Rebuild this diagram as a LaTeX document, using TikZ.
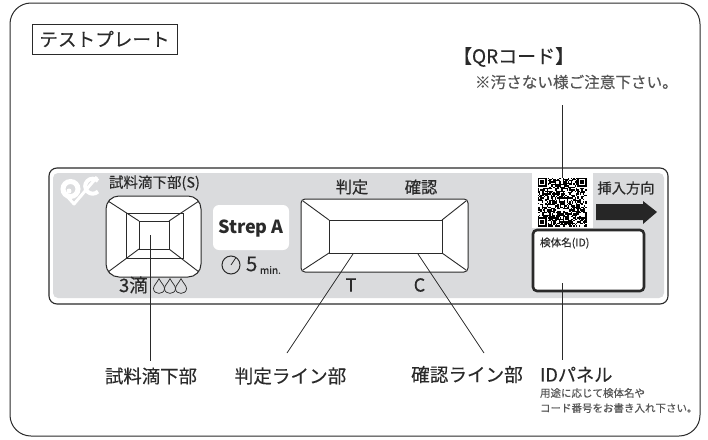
\documentclass[tikz,border=0pt]{standalone}
\usepackage{fontspec}
\setmainfont[FakeBold=0.25,BoldFeatures={FakeBold=0}]{Noto Sans CJK JP}
\newcommand{\fs}[1]{\fontsize{#1}{#1}\selectfont}
\definecolor{ink}{HTML}{2A2A2A}
\definecolor{panelgray}{HTML}{DADBDD}
\definecolor{softink}{HTML}{555555}
\tikzset{
  txt/.style={inner sep=0pt,outer sep=0pt,text=ink,font=\fs{#1}},
  well/.style={draw=ink,line width=1pt,fill=white,inner sep=0pt},
  leader/.style={draw=ink,line width=0.8pt},
  facet/.style={draw=ink,line width=0.9pt},
  dropmark/.style={draw=ink,line width=0.7pt,fill=none},
}
\begin{document}
\begin{tikzpicture}[x=1pt,y=-1pt]
\useasboundingbox (0,0) rectangle (708,439);
\fill[white] (0,0) rectangle (708,439);
% outer frame
\draw[ink,line width=1pt,rounded corners=21pt] (10,3) rectangle (700,436);
% title
\node[txt=18.6,draw=ink,line width=1pt,minimum width=145pt,minimum height=30pt] (title) at (104.5,39) {テストプレート};
% plate
\draw[ink,line width=1.1pt,fill=white,rounded corners=8pt] (49,168) rectangle (668,304);
\fill[panelgray,rounded corners=5pt] (53,173) rectangle (664,298);
% logo
\begin{scope}[white]
\draw[line width=5pt] (70.5,189) circle (7.5);
\fill (69,191) circle (2.5);
\draw[line width=3pt,line join=round] (66,195) -- (74,204) -- (97,177);
\draw[line width=4pt] (98,191.5) arc (45:315:7.5);
\end{scope}
% sample well
\node[txt=14.5,anchor=west] (sHead) at (109,183) {試料滴下部(S)};
\draw[well,rounded corners=13pt] (106,196) rectangle (201,277);
\draw[facet] (126,213) rectangle (183,258);
\draw[facet] (139,221) rectangle (169,249);
\draw[facet] (108,201) -- (139,221) (199,201) -- (169,221) (108,272) -- (139,249) (199,272) -- (169,249);
\node[txt=18.5,anchor=west] (drops) at (119,285) {3滴};
\foreach \dx in {159,170,181}{
  \draw[dropmark] (\dx,278.5) .. controls (\dx-2,283) and (\dx-5.5,285.5) .. (\dx-5.5,288.5)
     .. controls (\dx-5.5,295) and (\dx+5.5,295) .. (\dx+5.5,288.5)
     .. controls (\dx+5.5,285.5) and (\dx+2,283) .. (\dx,278.5);
}
% Strep A
\fill[white,rounded corners=6pt] (213,205) rectangle (289,250);
\node[txt=18] (strep) at (251,229) {\bfseries Strep A};
\coordinate (clock) at (231,265);
\draw[ink,line width=1pt] (clock) circle (9);
\draw[ink,line width=0.8pt] (clock) -- (236,257.5);
\node[txt=20.5,anchor=west] (five) at (246,264) {5};
\node[txt=10,anchor=west] (minutes) at (260,270) {min.};
% reading well
\node[txt=16.3] (hantei) at (352,187) {判定};
\node[txt=16.3] (kakunin) at (421,187) {確認};
\draw[well,rounded corners=4pt] (301,199) rectangle (468,272);
\draw[facet] (329,220) rectangle (442,253);
\draw[facet] (303,201) -- (329,220) (466,201) -- (442,220) (303,270) -- (329,253) (466,270) -- (442,253);
\node[txt=18] (tMark) at (351,285) {T};
\node[txt=18] (cMark) at (419.5,285) {C};
% QR
\fill[white] (532,173) rectangle (593,228);
\pgfmathsetseed{11}
\begin{scope}[shift={(537.5,177.5)}]
\foreach \i in {0,...,36}{\foreach \j in {0,...,36}{
  \pgfmathrandominteger{\r}{0}{99}
  \ifnum\r<58\relax\fill[black] (\i*1.33,\j*1.33) rectangle ++(1.33,1.33);\fi
}}
\foreach \ox/\oy in {0/0,39.9/0,0/39.9}{
  \fill[white] (\ox,\oy) rectangle ++(10.6,10.6);
  \fill[black] (\ox,\oy) rectangle ++(9.3,9.3);
  \fill[white] (\ox+1.33,\oy+1.33) rectangle ++(6.65,6.65);
  \fill[black] (\ox+2.66,\oy+2.66) rectangle ++(3.99,3.99);
}
\end{scope}
% insertion direction
\node[txt=14.3] (insert) at (626,188) {挿入方向};
\fill[black!85] (596,204) -- (643,204) -- (643,201) -- (657,212) -- (643,224) -- (643,220) -- (596,220) -- cycle;
% ID box
\draw[ink,line width=2.6pt,fill=white,rounded corners=4pt] (533,230) rectangle (644,291);
\node[txt=10.6,anchor=west] (idHead) at (540,243) {検体名(ID)};
% labels
\node[txt=18.4] (lSample) at (151,376) {試料滴下部};
\node[txt=18.6] (lJudge) at (290.5,376) {判定ライン部};
\node[txt=18.6] (lConfirm) at (467,374.5) {確認ライン部};
\node[txt=18.2,anchor=west] (lId) at (540,374.5) {IDパネル};
\node[txt=10.5,anchor=west,text=softink] (idNoteA) at (540,393) {用途に応じて検体名や};
\node[txt=10.5,anchor=west,text=softink] (idNoteB) at (540,408) {コード番号をお書き入れ下さい。};
\node[txt=19,anchor=west] (lQr) at (453,57) {【QRコード】};
\node[txt=15.6,anchor=west,text=softink] (qrNote) at (475,82) {※汚さない様ご注意下さい。};
% leaders
\coordinate (qrTop) at (562,105);
\coordinate (qrEnd) at (562,178);
\coordinate (sampleEnd) at (150,235);
\coordinate (sampleFoot) at (150,361);
\coordinate (judgeEnd) at (353,254);
\coordinate (judgeFoot) at (287,353);
\coordinate (confirmEnd) at (418,254);
\coordinate (confirmFoot) at (484,353);
\coordinate (idEnd) at (562,283);
\coordinate (idFoot) at (562,360);
\draw[leader] (qrTop) -- (qrEnd);
\draw[leader] (sampleEnd) -- (sampleFoot);
\draw[leader] (judgeEnd) -- (judgeFoot);
\draw[leader] (confirmEnd) -- (confirmFoot);
\draw[leader] (idEnd) -- (idFoot);
\end{tikzpicture}
\end{document}
